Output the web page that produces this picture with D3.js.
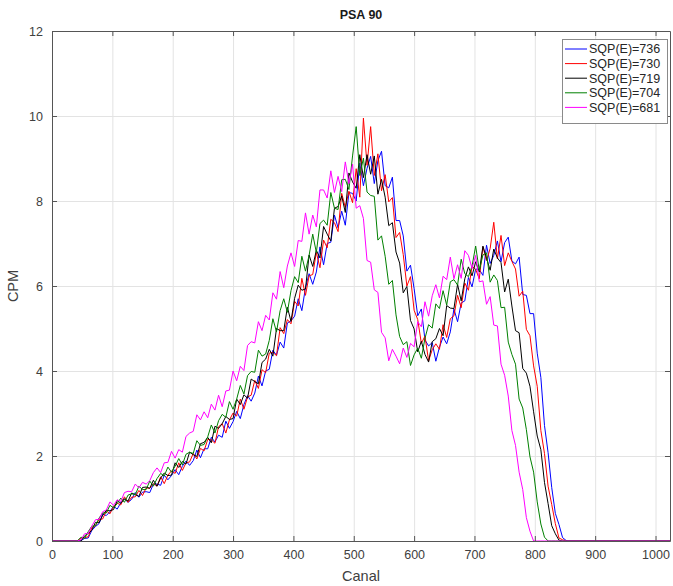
<!DOCTYPE html>
<html>
<head>
<meta charset="utf-8">
<script src="https://cdn.jsdelivr.net/npm/d3@7"></script>
<style>
  html, body { margin: 0; padding: 0; background: #fff; }
  svg { display: block; font-family: "Liberation Sans", Arial, Helvetica, sans-serif; }
</style>
</head>
<body>
<svg id="chart" width="673" height="586"></svg>
<script>
// Spectra sampled every 6 channels, from channel 42 to 858; outside that range the counts are zero.
const firstChannel = 42;
const channelStep = 6;

const seriesNames = ["SQP(E)=736", "SQP(E)=730", "SQP(E)=719", "SQP(E)=704", "SQP(E)=681"];
const seriesColors = ["#0000ff", "#ff0000", "#000000", "#008000", "#ff00ff"];

const cpm736 = [
  0, 0.01, 0.06, 0.07, 0.25, 0.34, 0.41, 0.63, 0.6, 0.69,
  0.82, 0.75, 0.9, 0.99, 0.91, 0.98, 1.14, 1.03, 1.15, 1.16,
  1.14, 1.34, 1.34, 1.31, 1.55, 1.44, 1.54, 1.68, 1.56, 1.76,
  1.88, 1.78, 1.89, 2.14, 1.96, 2.17, 2.17, 2.44, 2.33, 2.49,
  2.44, 2.82, 2.65, 2.81, 3.05, 2.88, 3.21, 3.42, 3.29, 3.48,
  3.88, 3.65, 4.0, 4.04, 4.49, 4.37, 4.68, 4.54, 5.13, 5.18,
  5.29, 5.7, 5.42, 5.96, 6.29, 6.04, 6.33, 6.92, 6.5, 7.0,
  7.03, 7.67, 7.37, 7.76, 7.43, 8.2, 8.18, 8.0, 8.89, 8.36,
  8.77, 9.05, 8.41, 8.95, 9.17, 8.36, 8.31, 8.56, 7.54, 7.54,
  7.18, 6.35, 6.49, 5.94, 5.3, 5.46, 4.73, 4.59, 4.67, 4.23,
  4.56, 4.8, 4.64, 4.92, 5.46, 5.16, 5.6, 5.65, 6.2, 5.98,
  6.4, 6.39, 6.25, 6.96, 6.53, 6.72, 7.06, 6.57, 7.02, 7.15,
  6.59, 6.52, 6.68, 5.8, 5.78, 5.35, 5.35, 4.42, 3.85, 2.72,
  2.08, 1.26, 0.65, 0.39, 0.08, 0.01, 0
];

const cpm730 = [
  0, 0.07, 0.08, 0.1, 0.31, 0.36, 0.5, 0.52, 0.71, 0.64,
  0.81, 0.89, 0.85, 1.04, 0.91, 1.03, 1.04, 1.19, 1.07, 1.25,
  1.24, 1.35, 1.29, 1.51, 1.35, 1.55, 1.65, 1.59, 1.84, 1.66,
  1.84, 1.86, 2.06, 1.93, 2.18, 2.12, 2.39, 2.38, 2.3, 2.69,
  2.76, 2.54, 2.85, 3.01, 2.94, 3.34, 3.1, 3.39, 3.43, 3.78,
  3.59, 4.03, 3.96, 4.42, 4.44, 4.36, 5.02, 4.88, 5.21, 5.11,
  5.64, 5.53, 6.18, 5.78, 6.24, 6.27, 6.79, 6.43, 7.08, 6.9,
  7.57, 7.49, 7.28, 8.18, 7.85, 8.23, 7.96, 8.76, 8.09, 9.95,
  8.84, 9.75, 8.6, 9.11, 8.24, 8.62, 7.98, 8.08, 7.14, 7.26,
  6.74, 6.0, 6.22, 5.43, 5.21, 4.65, 4.82, 4.24, 4.5, 4.64,
  4.51, 5.09, 4.79, 5.23, 5.3, 5.78, 5.49, 6.07, 5.9, 6.47,
  6.39, 6.17, 6.92, 6.6, 6.88, 7.5, 6.64, 7.19, 6.48, 6.78,
  6.58, 6.4, 5.76, 5.88, 4.98, 4.83, 4.12, 3.64, 2.6, 2.06,
  1.29, 0.86, 0.41, 0.07, 0.03, 0, 0
];

const cpm719 = [
  0, 0, 0.12, 0.18, 0.25, 0.44, 0.43, 0.61, 0.72, 0.71,
  0.74, 0.95, 0.89, 0.99, 0.94, 1.13, 1.09, 1.05, 1.26, 1.27,
  1.24, 1.43, 1.29, 1.48, 1.6, 1.54, 1.55, 1.84, 1.73, 1.87,
  1.81, 2.09, 2.03, 1.99, 2.29, 2.32, 2.44, 2.31, 2.7, 2.65,
  2.76, 2.93, 2.86, 2.88, 3.34, 3.21, 3.44, 3.36, 3.81, 3.75,
  3.7, 4.2, 4.28, 4.51, 4.35, 5.0, 4.95, 4.95, 5.5, 5.17,
  5.71, 6.02, 5.9, 5.93, 6.73, 6.46, 6.84, 6.66, 7.4, 7.22,
  7.06, 7.83, 7.87, 8.12, 7.73, 8.66, 8.45, 8.3, 9.09, 8.55,
  9.09, 8.63, 9.06, 8.16, 8.51, 8.09, 7.42, 7.49, 6.8, 6.54,
  5.84, 5.99, 5.19, 4.99, 4.45, 4.7, 4.39, 4.21, 4.69, 4.76,
  5.0, 4.83, 5.54, 5.48, 5.47, 6.04, 5.65, 6.17, 6.45, 6.24,
  6.57, 6.33, 6.94, 6.66, 6.37, 6.87, 6.66, 6.55, 5.86, 6.16,
  5.53, 4.95, 4.9, 4.06, 3.95, 3.64, 3.04, 2.47, 2.15, 1.38,
  0.88, 0.36, 0.17, 0.02, 0, 0, 0
];

const cpm704 = [
  0, 0.09, 0.06, 0.22, 0.35, 0.36, 0.54, 0.66, 0.66, 0.84,
  0.78, 0.88, 1.01, 0.91, 1.08, 1.11, 1.09, 1.29, 1.21, 1.21,
  1.41, 1.29, 1.47, 1.59, 1.53, 1.74, 1.62, 1.76, 1.94, 1.79,
  2.04, 2.09, 2.06, 2.36, 2.25, 2.27, 2.45, 2.73, 2.54, 2.83,
  2.98, 2.91, 3.28, 3.1, 3.34, 3.66, 3.46, 3.89, 3.99, 3.97,
  4.49, 4.35, 4.4, 4.72, 5.23, 4.92, 5.42, 5.7, 5.38, 5.89,
  6.22, 6.08, 6.7, 6.35, 6.72, 7.22, 6.79, 7.47, 7.55, 7.43,
  8.2, 7.83, 7.8, 8.5, 8.51, 8.27, 9.06, 9.75, 8.6, 9.01,
  8.21, 8.13, 8.11, 7.08, 7.18, 6.7, 6.04, 6.13, 5.32, 4.81,
  4.62, 4.69, 4.13, 4.38, 4.54, 4.3, 4.77, 5.09, 5.01, 5.58,
  5.47, 5.89, 5.55, 6.1, 6.15, 6.02, 6.63, 6.29, 6.22, 6.47,
  6.94, 6.36, 6.73, 6.78, 6.09, 6.26, 6.13, 5.49, 5.5, 4.68,
  4.39, 4.16, 3.34, 3.13, 2.62, 1.98, 1.62, 0.92, 0.4, 0.09,
  0, 0, 0, 0, 0, 0, 0
];

const cpm681 = [
  0, 0.03, 0.17, 0.18, 0.35, 0.5, 0.51, 0.69, 0.73, 0.92,
  0.84, 0.97, 0.93, 1.14, 1.17, 1.16, 1.34, 1.25, 1.38, 1.34,
  1.42, 1.61, 1.72, 1.61, 1.84, 1.85, 2.11, 1.95, 2.15, 2.09,
  2.46, 2.54, 2.58, 2.97, 2.85, 3.04, 2.9, 3.22, 3.08, 3.43,
  3.16, 3.53, 3.55, 4.0, 3.77, 4.11, 4.01, 4.6, 4.69, 4.66,
  5.16, 4.95, 5.31, 5.2, 5.84, 5.69, 6.34, 5.96, 6.47, 6.78,
  6.46, 7.07, 7.05, 7.72, 7.22, 7.67, 7.39, 8.26, 8.26, 8.07,
  8.71, 8.2, 8.58, 8.22, 8.92, 8.41, 8.87, 7.83, 7.89, 7.59,
  6.6, 6.56, 5.91, 5.85, 4.91, 4.78, 4.24, 4.51, 4.35, 4.17,
  4.54, 4.32, 4.65, 4.57, 5.16, 5.04, 5.63, 5.29, 5.77, 6.03,
  5.72, 6.23, 6.15, 6.68, 6.17, 6.5, 6.18, 6.83, 6.72, 6.41,
  6.72, 6.1, 6.12, 5.57, 5.75, 5.08, 5.06, 4.16, 3.9, 3.41,
  2.6, 2.25, 1.62, 1.21, 0.55, 0.23, 0, 0, 0, 0,
  0, 0, 0, 0, 0, 0, 0
];

const seriesValues = [cpm736, cpm730, cpm719, cpm704, cpm681];

const xTicks = [0, 100, 200, 300, 400, 500, 600, 700, 800, 900, 1000];
const yTicks = [0, 2, 4, 6, 8, 10, 12];
const xDomain = [0, 1024];
const yDomain = [0, 12];

const titleText = "PSA 90";
const xLabelText = "Canal";
const yLabelText = "CPM";

// ---- layout ----
const svg = d3.select("#chart");
const margin = { left: 52, right: 3, top: 31, bottom: 45 };
const W = 673, H = 586;
const plotW = W - margin.left - margin.right;
const plotH = H - margin.top - margin.bottom;

const x = d3.scaleLinear().domain(xDomain).range([0, plotW]);
const y = d3.scaleLinear().domain(yDomain).range([plotH, 0]);

const g = svg.append("g").attr("transform", `translate(${margin.left},${margin.top})`);

// grid
const grid = g.append("g").attr("class", "grid");
grid.selectAll("line.gx").data(xTicks.filter(v => v > 0)).join("line")
  .attr("x1", d => x(d) + 0.5).attr("x2", d => x(d) + 0.5)
  .attr("y1", 0).attr("y2", plotH)
  .attr("stroke", "#e3e3e3").attr("stroke-width", 1);
grid.selectAll("line.gy").data(yTicks.filter(v => v > 0 && v < 12)).join("line")
  .attr("y1", d => y(d) + 0.5).attr("y2", d => y(d) + 0.5)
  .attr("x1", 0).attr("x2", plotW)
  .attr("stroke", "#e3e3e3").attr("stroke-width", 1);

// spectra
g.append("clipPath").attr("id", "plotClip")
  .append("rect").attr("x", 0).attr("y", -2).attr("width", plotW).attr("height", plotH + 2);

const line = d3.line().x(d => x(d[0])).y(d => y(d[1]));
const lines = g.append("g").attr("clip-path", "url(#plotClip)");
seriesValues.forEach((vals, k) => {
  const pts = [[xDomain[0], 0]]
    .concat(vals.map((v, i) => [firstChannel + i * channelStep, v]))
    .concat([[xDomain[1], 0]]);
  lines.append("path")
    .datum(pts)
    .attr("d", line)
    .attr("fill", "none")
    .attr("stroke", seriesColors[k])
    .attr("stroke-width", 1)
    .attr("stroke-linejoin", "round");
});

// axes (box with inward ticks on all four sides)
const axisColor = "#555";
const labelColor = "#404040";
const tick = 5;
const fmt = d3.format("d");

const xAxis = g.append("g").attr("transform", `translate(0,${plotH})`)
  .call(d3.axisBottom(x).tickValues(xTicks).tickFormat(fmt).tickSizeInner(-tick).tickSizeOuter(0).tickPadding(9));
const yAxis = g.append("g")
  .call(d3.axisLeft(y).tickValues(yTicks).tickFormat(fmt).tickSizeInner(-tick).tickSizeOuter(0).tickPadding(9));
const xTop = g.append("g")
  .call(d3.axisTop(x).tickValues(xTicks).tickSizeInner(-tick).tickSizeOuter(0).tickFormat(""));
const yRight = g.append("g").attr("transform", `translate(${plotW},0)`)
  .call(d3.axisRight(y).tickValues(yTicks).tickSizeInner(-tick).tickSizeOuter(0).tickFormat(""));

[xAxis, yAxis, xTop, yRight].forEach(a => {
  a.selectAll("path.domain").attr("stroke", axisColor);
  a.selectAll(".tick line").attr("stroke", axisColor);
  a.selectAll(".tick text").attr("fill", labelColor).style("font-size", "12.5px")
    .style("font-family", "'Liberation Sans', Arial, sans-serif");
});

// titles
svg.append("text").attr("x", margin.left + plotW / 2).attr("y", 19)
  .attr("text-anchor", "middle").attr("font-weight", "bold").attr("font-size", 12.5)
  .attr("fill", "#1a1a1a").text(titleText);
svg.append("text").attr("x", margin.left + plotW / 2).attr("y", 581)
  .attr("text-anchor", "middle").attr("font-size", 14.5).attr("fill", labelColor).text(xLabelText);
svg.append("text").attr("transform", `translate(18,${margin.top + plotH / 2}) rotate(-90)`)
  .attr("text-anchor", "middle").attr("font-size", 14.5).attr("fill", labelColor).text(yLabelText);

// legend
const leg = svg.append("g").attr("transform", "translate(562,39)");
const legW = 105, legRow = 14.6, legH = 84;
leg.append("rect").attr("x", 0.5).attr("y", 0.5).attr("width", legW).attr("height", legH)
  .attr("fill", "#fff").attr("stroke", "#8a8a8a").attr("stroke-width", 1);
seriesNames.forEach((name, k) => {
  const cy = 10 + k * legRow;
  leg.append("line").attr("x1", 3).attr("x2", 25).attr("y1", cy).attr("y2", cy)
    .attr("stroke", seriesColors[k]).attr("stroke-width", 1);
  leg.append("text").attr("x", 27).attr("y", cy).attr("dy", "0.35em")
    .attr("font-size", 12.5).attr("fill", "#262626").text(name);
});
</script>
</body>
</html>
